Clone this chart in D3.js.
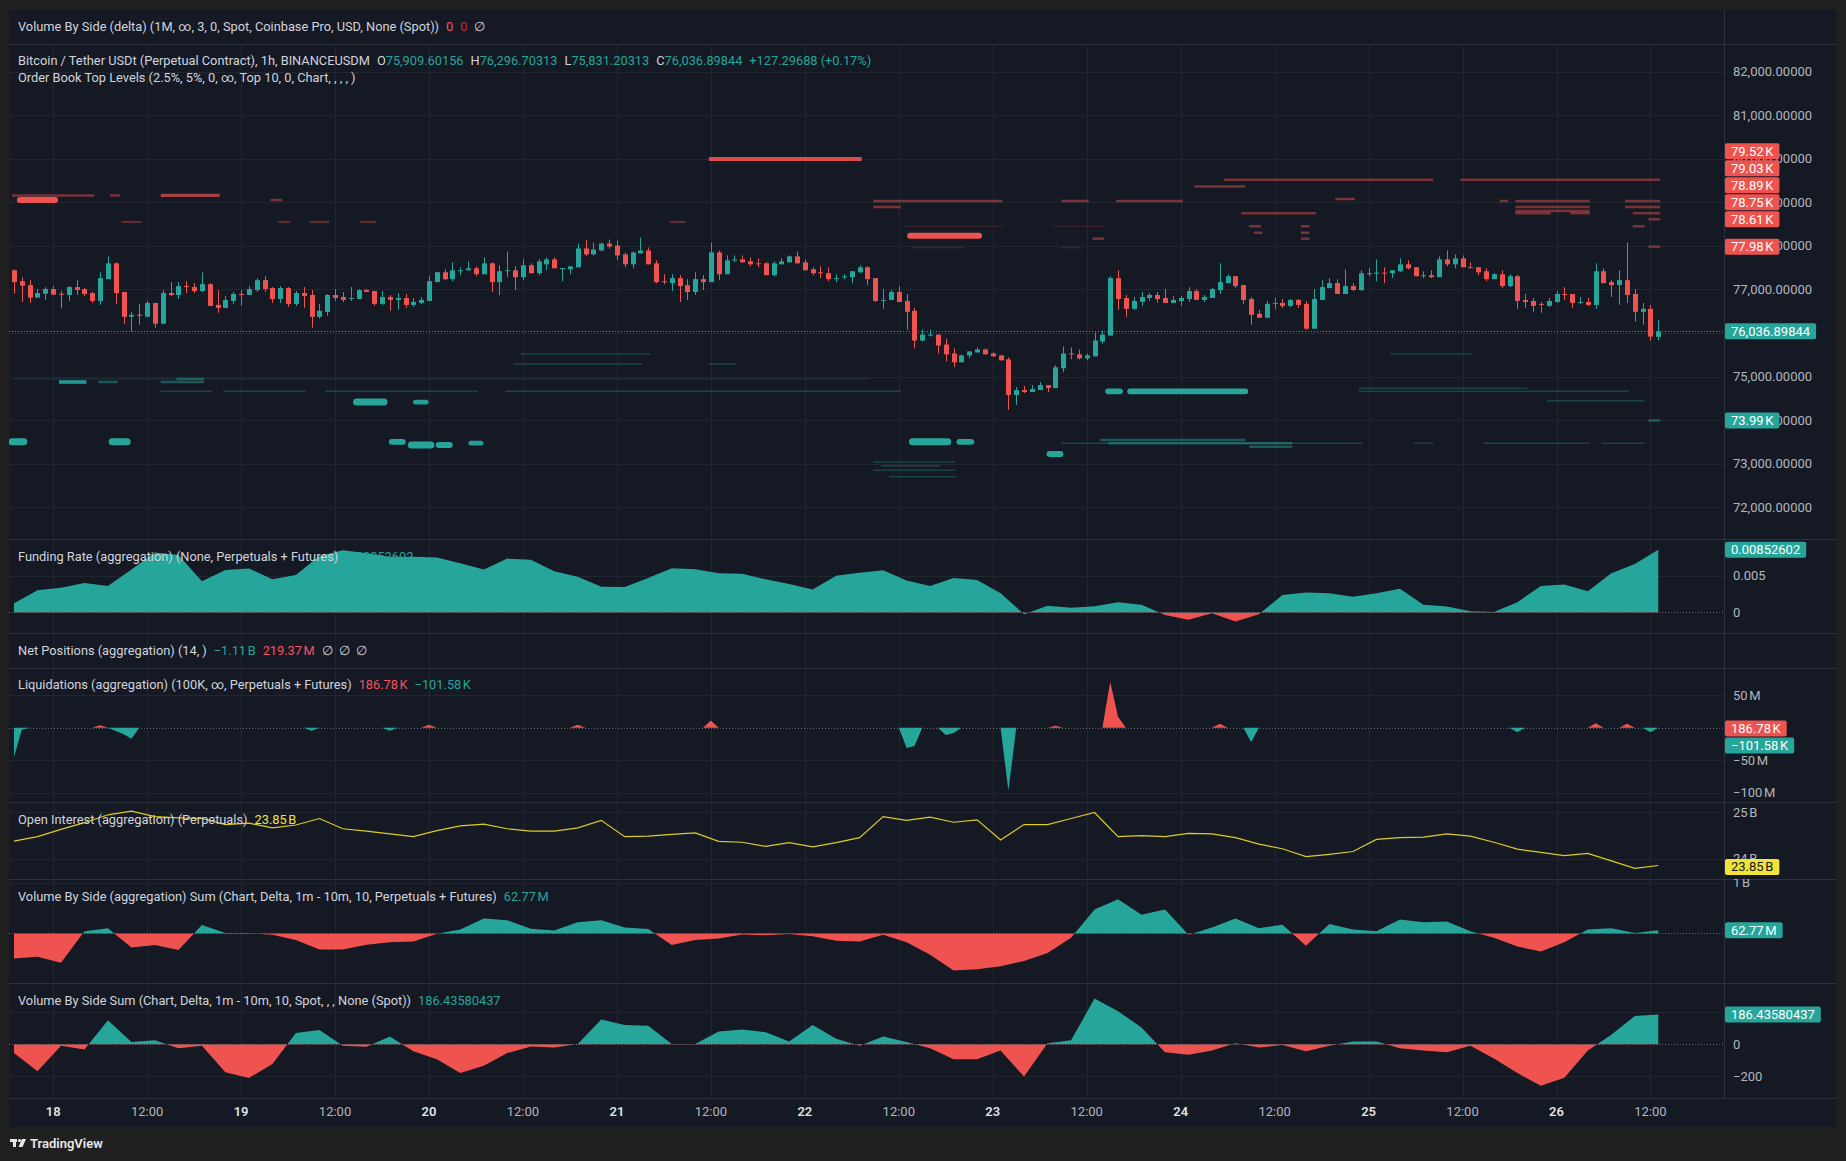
<!DOCTYPE html>
<html>
<head>
<meta charset="utf-8">
<script src="https://cdn.jsdelivr.net/npm/d3@7"></script>
<style>
html, body { margin: 0; background: #202020; }
svg { display: block; font-family: Roboto, "Noto Sans", sans-serif; }
</style>
</head>
<body>
<svg id="chart" width="1846" height="1161"></svg>
<script>
// ---- hourly candles, BTCUSDT perp, 17th 19:00 -> 26th 13:00
const candleOpen = [
  77439,77189,77098,76811,76902,77008,76900,76871,77053,77008,
  76917,76735,77235,77598,76940,76371,76420,76371,76689,76212,
  76917,76871,77076,77053,76962,77121,76644,76576,76735,76894,
  76871,76985,77212,77030,76780,77030,76667,76917,76871,76371,
  76485,76871,76826,76780,76780,76985,76962,76667,76826,76758,
  76803,76644,76689,76735,77167,77394,77235,77417,77439,77485,
  77349,77598,77167,77417,77439,77280,77553,77371,77576,77689,
  77485,77462,77508,77939,77803,77894,78053,78008,77803,77576,
  77826,77894,77598,77189,77144,77258,77098,76940,77235,77167,
  77849,77349,77667,77689,77643,77598,77598,77326,77576,77621,
  77758,77621,77462,77394,77371,77235,77290,77280,77394,77508,
  77258,76740,76758,76940,76735,76508,75826,75939,75962,75735,
  75530,75326,75485,75553,75621,75530,75485,75394,74576,74689,
  74644,74689,74803,74735,75189,75530,75508,75417,75462,75803,
  75939,77258,76803,76553,76712,76803,76871,76803,76689,76735,
  76780,76962,76758,76803,76985,77144,77303,77098,76780,76440,
  76349,76680,76689,76621,76758,76667,76098,76758,77030,77144,
  76894,77076,76985,77349,77370,77385,77371,77417,77576,77508,
  77315,77326,77280,77689,77576,77712,77510,77508,77417,77235,
  77349,77076,77303,76758,76735,76667,76621,76712,76894,76894,
  76689,76712,76644,77417,77167,77098,77212,76894,76485,76553,
  75909.60156
];
const candleHigh = [
  77462,77280,77212,77008,77053,77076,76962,77076,77212,77030,
  76940,77394,77758,77621,76940,76485,76667,76735,76689,76985,
  77167,77167,77189,77144,77394,77144,76985,76849,76940,76985,
  77076,77258,77303,77053,77076,77053,76962,77053,76985,76667,
  76894,77008,76940,77053,77008,77008,76962,76962,76871,76917,
  76894,76803,76826,77303,77394,77462,77621,77508,77643,77530,
  77735,77621,77553,77871,77530,77689,77598,77689,77735,77735,
  77490,77530,78053,78144,78076,78076,78144,78121,77849,77871,
  78189,77962,77667,77349,77349,77326,77235,77394,77326,78076,
  77894,77780,77780,77780,77735,77712,77621,77643,77712,77780,
  77871,77689,77508,77530,77508,77349,77349,77417,77553,77530,
  77258,77008,76985,77076,76894,76576,76076,76076,75962,75871,
  75644,75508,75576,75667,75644,75553,75485,75439,74758,74780,
  74803,74871,74803,75258,75689,75667,75621,75530,76008,76053,
  77303,77439,76871,76826,76940,76917,76940,77008,76849,76849,
  77053,77008,76871,77030,77598,77349,77303,77098,76826,76530,
  76735,76803,76780,76780,76780,76735,77008,77212,77258,77235,
  77462,77144,77439,77485,77689,77508,77439,77712,77667,77508,
  77417,77439,77758,77894,77803,77780,77621,77508,77485,77371,
  77439,77349,77326,76894,76803,76712,76803,76962,77053,76894,
  76826,76803,77598,77485,77212,77439,78076,77008,76689,76644,
  76296.70313
];
const candleLow = [
  76902,76712,76689,76811,76758,76879,76561,76735,76871,76849,
  76689,76644,77235,76667,76212,76030,76189,76371,76121,76212,
  76849,76780,76917,76917,76940,76621,76462,76576,76667,76621,
  76871,76940,76940,76689,76689,76598,76621,76576,76121,76326,
  76394,76735,76712,76735,76780,76940,76621,76644,76508,76530,
  76576,76598,76667,76735,77167,77212,77189,77326,77439,77303,
  77349,76940,76871,77280,76985,77212,77371,77326,77439,77485,
  77190,77349,77508,77758,77780,77871,77939,77667,77508,77485,
  77826,77576,77144,77121,76962,76712,76758,76871,76985,77167,
  77212,77349,77620,77621,77530,77508,77326,77303,77576,77621,
  77598,77439,77326,77258,77189,77167,77235,77144,77371,77098,
  76712,76553,76758,76712,76076,75644,75803,75917,75530,75348,
  75212,75326,75417,75553,75508,75462,75371,74235,74348,74621,
  74644,74689,74644,74735,75098,75394,75394,75371,75462,75758,
  75939,76530,76371,76530,76621,76735,76689,76689,76689,76621,
  76712,76758,76712,76803,76894,77144,77030,76667,76189,76349,
  76349,76553,76576,76598,76576,76076,76098,76758,77030,76894,
  76894,76962,76962,77303,77189,77144,77258,77394,77462,77303,
  77258,77258,77280,77530,77485,77508,77495,77326,77189,77235,
  77030,77053,76553,76576,76485,76462,76598,76689,76758,76576,
  76667,76621,76553,77144,76826,76644,76689,76258,76189,75826,
  75831.20313
];
const candleClose = [
  77167,77083,76811,76917,77008,76879,76890,77053,76985,76894,
  76735,77258,77598,76917,76371,76417,76400,76689,76212,76917,
  76871,77076,77053,76962,77121,76621,76576,76758,76894,76879,
  77008,77212,77008,76780,77030,76667,76917,76849,76371,76508,
  76871,76803,76758,76803,76985,76940,76667,76826,76758,76803,
  76644,76712,76758,77189,77394,77235,77439,77439,77485,77349,
  77598,77167,77417,77439,77280,77553,77371,77643,77689,77485,
  77490,77530,77939,77803,77917,78053,77985,77780,77576,77849,
  77894,77576,77167,77167,77258,77076,76940,77235,77167,77849,
  77349,77667,77689,77621,77576,77585,77326,77598,77643,77758,
  77598,77439,77371,77380,77235,77258,77300,77417,77508,77235,
  76735,76758,76940,76712,76485,75826,75962,75962,75712,75508,
  75326,75485,75576,75621,75508,75462,75371,74576,74689,74644,
  74712,74803,74735,75212,75530,75515,75417,75485,75826,75962,
  77258,76780,76553,76735,76826,76871,76780,76689,76758,76803,
  76962,76758,76826,77008,77167,77303,77076,76758,76417,76349,
  76667,76690,76621,76758,76644,76098,76780,77053,77144,76894,
  77076,76985,77371,77371,77385,77370,77439,77576,77485,77303,
  77325,77280,77689,77576,77712,77508,77495,77394,77235,77349,
  77076,77303,76735,76712,76621,76644,76735,76894,76879,76689,
  76712,76644,77417,77144,77098,77212,76871,76485,76553,75917,
  76036.89844
];

// ---- indicators, one reading every 3 candles (index 0, 3, 6 ... 210)
const indicatorStep = 3;
const fundingRate = [
  0.00124,0.00302,0.00337,0.00401,0.00361,0.00584,0.00817,0.00782,0.00426,0.00579,
  0.00599,0.0045,0.0051,0.00767,0.00846,0.00807,0.00757,0.00757,0.00747,0.00668,
  0.00584,0.00733,0.00718,0.00559,0.00485,0.00351,0.00347,0.0047,0.006,0.00589,
  0.00535,0.00525,0.0045,0.00386,0.00312,0.005,0.0054,0.00574,0.00436,0.00361,
  0.0047,0.0044,0.00262,-0.00025,0.00089,0.00064,0.00084,0.00139,0.00104,-0.00035,
  -0.00099,-0.0001,-0.00124,-0.00025,0.00238,0.00272,0.00262,0.00213,0.00262,0.00322,
  0.00104,0.00079,0.00015,0.00005,0.00139,0.00361,0.00381,0.00287,0.00535,0.00658,
  0.00852602
];
const openInterestB = [
  24.375,24.47,24.625,24.77,24.94,25.02,24.9,24.875,24.86,24.73,
  24.76,24.66,24.72,24.86,24.64,24.59,24.53,24.47,24.6,24.7,
  24.74,24.64,24.59,24.59,24.66,24.82,24.47,24.48,24.52,24.55,
  24.37,24.35,24.26,24.34,24.25,24.34,24.45,24.9,24.82,24.89,
  24.78,24.83,24.4,24.73,24.73,24.86,24.99,24.47,24.49,24.47,
  24.54,24.53,24.45,24.31,24.21,24.04,24.09,24.15,24.41,24.45,
  24.46,24.53,24.48,24.35,24.2,24.13,24.06,24.11,23.95,23.79,
  23.85
];
const volAggDeltaM = [
  -496,-460,-583,43,101,-281,-230,-331,165,7,
  7,-29,-129,-317,-317,-223,-173,-158,-7,79,
  295,259,94,58,223,259,115,86,-230,-129,
  -101,-22,-36,-14,-58,-144,-158,-29,-173,-424,
  -734,-712,-650,-547,-388,-86,475,676,367,475,
  -29,115,295,101,173,-245,187,79,43,273,
  223,237,43,-86,-259,-360,-173,79,101,7,
  62.77
];
const volSpotSum = [
  -55,-168,-9,-32,150,14,25,-25,-9,-175,
  -211,-123,70,89,-9,-16,48,-43,-93,-180,
  -134,-55,-14,-20,2,155,120,116,2,2,
  80,93,75,18,120,34,-9,48,14,-25,
  -93,-93,-39,-202,7,25,286,207,105,-50,
  -66,-39,7,-20,-5,-43,-9,18,18,-25,
  -39,-50,-9,-89,-180,-259,-209,-39,59,177,
  186.43580437
];

// ---- liquidations (M USD), only the candles that had any
const liqLongIdx = [11, 53, 72, 89, 133, 140, 141, 154, 202, 206, 210];
const liqLongVal = [4, 4.5, 4.5, 11, 3, 71, 17, 6, 7, 6, 0.18678];
const liqShortIdx = [0, 1, 13, 14, 15, 38, 48, 114, 115, 119, 120, 127, 158, 192, 209, 210];
const liqShortVal = [-45, -3, -5, -10, -17, -4.5, -4.5, -31, -28, -11, -8, -97, -22, -7, -7, -0.10158];

// ---- order book levels: price, from candle, to candle, relative size
const askPrice = [79994,79052,79158,79158,79158,79050,78550,78550,78550,78550,78550,
  79520,79520,79360,79030,79030,79030,79030,79030,79030,79075,78890,78890,78890,78800,
  78750,78750,78750,78750,78610,78450,78450,78450,78450,78450,78300,78300,78233,78164,78164,
  77980,77957,77957];
const askFrom = [89,1,0,12.5,19,33,14,34,38,44.5,84,
  154.8,185,151,110,134,141,190,192,206,169,110,192,206,192,
  157,192,199,207,209,158,164.6,207,114,133,158.6,164.6,114.7,138,164.6,
  209,115,134];
const askTo = [108,5,10,13.3,26,34,16,35,40,46,85.5,
  181,210,157,126,137,149,190.6,201,210,171,113,201,210,201,
  166,196,201,210,210,159,165.2,208,126,139,159.2,165.2,123,139,165.2,
  210,121,136];
const askSize = [3.2,5,2,2,2.5,2,1.5,1.5,1.5,1.5,1.5,
  2,2,2,2,2,2,2,2,2,2,2,2,2,2,
  2,2,2,2,2,2,2,2,0.5,0.5,2,2,5,2,2,
  2,0.5,0.5];

const bidPrice = [74943,74943,74874,74874,74874,74660,74660,74660,74660,74660,74660,
  74415,74415,74730,74660,74445,73500,73500,73500,73428,73428,73470,73500,73500,
  73543,73470,73470,73470,73470,73470,73390,73222,73040,72950,72850,72700,
  75517,75287,75287,75517,73990];
const bidFrom = [0,21,6,11,19,19,27,40,63,140,142.8,
  44,51.5,172,172,196,0,12.8,48.5,51,54.5,58.6,115,121,
  139,134,140,179,188,203,158,132.5,110,111,110,112,
  65,64,89,176,209];
const bidTo = [109,24,9,13,24,25,37,59,113,141,157,
  47,52.4,193,206,208,1,14.2,49.4,53,55.4,59.4,119,122,
  157,172,163,181,201,208,163,133.4,120,118,120,120,
  81,80,92,186,210];
const bidSize = [0.7,2,3,2,2,1,1,1,1,5,5,
  6,4,1,1,1,6,6,5,6,5,4,6,5,
  2,1,2,1,1,1,2,5,1,1,1,1,
  1,1,1,1,2];

// ---- labels
const priceTicks = d3.range(72000, 82001, 1000);
const askLabels = [79520, 79030, 78890, 78750, 78610, 77980];
const bidLabels = [73990];

const teal = "#26a69a", red = "#ef5350", yellow = "#f2e33a";
const textColor = "#d1d4dc", axisText = "#b2b5be";
const gridColor = "#222631", sepColor = "#2e323d";
const legendSize = 12.8;

const svg = d3.select("#chart");
const plotLeft = 9, axisX = 1724, plotRight = 1836;

const panes = {
  delta:   { top: 10,  bottom: 44 },
  price:   { top: 44,  bottom: 539 },
  funding: { top: 539, bottom: 633 },
  netpos:  { top: 633, bottom: 668 },
  liq:     { top: 668, bottom: 802 },
  oi:      { top: 802, bottom: 879 },
  volAgg:  { top: 879, bottom: 983 },
  volSum:  { top: 983, bottom: 1098 }
};
const timeAxis = { top: 1098, bottom: 1127 };

// time scale
const t0 = new Date(2025, 2, 17, 19);
const dates = candleClose.map((_, i) => new Date(+t0 + i * 3600e3));
const x = d3.scaleTime()
  .domain([t0, dates[dates.length - 1]])
  .range([14, 14 + (dates.length - 1) * 7.83]);

// y scales
const yPrice = d3.scaleLinear().domain([72000, 82000]).range([507.2, 71.6]);
const yFunding = d3.scaleLinear().domain([0, 0.005]).range([612.4, 575.7]);
const yLiq = d3.scaleLinear().domain([-100, 50]).range([792.7, 695.3]);
const yOi = d3.scaleLinear().domain([24, 25]).range([858.5, 812]);
const yVolAgg = d3.scaleLinear().domain([0, 1000]).range([933.4, 882.9]);
const yVolSum = d3.scaleLinear().domain([-200, 0]).range([1076.3, 1044.3]);

// background
svg.append("rect").attr("x", plotLeft).attr("y", panes.delta.top)
  .attr("width", plotRight - plotLeft).attr("height", timeAxis.bottom - panes.delta.top)
  .attr("fill", "#151924");

const defs = svg.append("defs");
Object.entries(panes).forEach(([name, p]) => {
  defs.append("clipPath").attr("id", "clip-" + name)
    .append("rect").attr("x", plotLeft).attr("y", p.top)
    .attr("width", axisX - plotLeft).attr("height", p.bottom - p.top);
  defs.append("clipPath").attr("id", "axclip-" + name)
    .append("rect").attr("x", axisX).attr("y", p.top)
    .attr("width", plotRight - axisX).attr("height", p.bottom - p.top);
});

// vertical grid every 12h
const gridG = svg.append("g");
const timeTicks = x.ticks(d3.timeHour.every(12));
gridG.selectAll(".vgrid").data(timeTicks).enter().append("line")
  .attr("x1", d => Math.round(x(d)) + 0.5).attr("x2", d => Math.round(x(d)) + 0.5)
  .attr("y1", panes.price.top).attr("y2", panes.volSum.bottom)
  .attr("stroke", gridColor);

function hgrid(values, y, pane) {
  gridG.selectAll(null).data(values).enter().append("line")
    .attr("x1", plotLeft).attr("x2", axisX)
    .attr("y1", d => Math.round(y(d)) + 0.5).attr("y2", d => Math.round(y(d)) + 0.5)
    .attr("stroke", gridColor)
    .attr("clip-path", `url(#clip-${pane})`);
}
hgrid(priceTicks, yPrice, "price");
hgrid([0.005], yFunding, "funding");
hgrid([50, -50, -100], yLiq, "liq");
hgrid([25, 24], yOi, "oi");
hgrid([1000], yVolAgg, "volAgg");
hgrid([200, -200], yVolSum, "volSum");

// ---- order book levels
const sizeWidth = d3.scaleLinear().domain([0.5, 2, 6]).range([1, 2.5, 7]);
const sizeOpacity = d3.scaleLinear().domain([0.5, 2, 3, 5]).range([0.22, 0.45, 0.9, 1]).clamp(true);
const hourX = i => x(new Date(+t0 + i * 3600e3));

function drawLevels(prices, from, to, size, color) {
  const rows = prices.map((p, i) => ({ p, a: from[i], b: to[i], s: size[i] }));
  svg.append("g").attr("clip-path", "url(#clip-price)")
    .selectAll("line").data(rows).enter().append("line")
    .attr("x1", d => hourX(d.a) - 2).attr("x2", d => hourX(d.b) + 2)
    .attr("y1", d => yPrice(d.p)).attr("y2", d => yPrice(d.p))
    .attr("stroke", color)
    .attr("stroke-width", d => sizeWidth(d.s))
    .attr("stroke-linecap", d => d.s >= 4 ? "round" : "butt")
    .attr("opacity", d => sizeOpacity(d.s));
}
drawLevels(askPrice, askFrom, askTo, askSize, red);
drawLevels(bidPrice, bidFrom, bidTo, bidSize, teal);

// ---- candles
const candles = dates.map((d, i) => ({
  d, o: candleOpen[i], h: candleHigh[i], l: candleLow[i], c: candleClose[i]
}));
const candleG = svg.append("g").attr("clip-path", "url(#clip-price)");
candleG.selectAll(".wick").data(candles).enter().append("line")
  .attr("x1", d => Math.round(x(d.d)) + 0.5).attr("x2", d => Math.round(x(d.d)) + 0.5)
  .attr("y1", d => yPrice(d.h)).attr("y2", d => yPrice(d.l))
  .attr("stroke", d => d.c >= d.o ? teal : red);
candleG.selectAll(".body").data(candles).enter().append("rect")
  .attr("x", d => Math.round(x(d.d)) - 2)
  .attr("width", 5)
  .attr("y", d => yPrice(Math.max(d.o, d.c)))
  .attr("height", d => Math.max(1, yPrice(Math.min(d.o, d.c)) - yPrice(Math.max(d.o, d.c))))
  .attr("fill", d => d.c >= d.o ? teal : red);

const lastClose = candleClose[candleClose.length - 1];
svg.append("line")
  .attr("x1", plotLeft).attr("x2", axisX)
  .attr("y1", Math.round(yPrice(lastClose)) + 0.5).attr("y2", Math.round(yPrice(lastClose)) + 0.5)
  .attr("stroke", teal).attr("stroke-dasharray", "1 2");

// ---- indicator helpers
const stepPoints = arr => arr.map((v, k) => [k * indicatorStep, v]);

function zeroLine(y) {
  svg.append("line").attr("x1", plotLeft).attr("x2", axisX)
    .attr("y1", Math.round(y(0)) + 0.5).attr("y2", Math.round(y(0)) + 0.5)
    .attr("stroke", "#787b86").attr("stroke-dasharray", "1 2").attr("opacity", 0.8);
}

function deltaArea(name, pts, y, up, down) {
  const p = panes[name];
  const y0 = y(0);
  defs.append("clipPath").attr("id", "pos-" + name).append("rect")
    .attr("x", plotLeft).attr("y", p.top).attr("width", axisX - plotLeft).attr("height", y0 - p.top);
  defs.append("clipPath").attr("id", "neg-" + name).append("rect")
    .attr("x", plotLeft).attr("y", y0).attr("width", axisX - plotLeft).attr("height", p.bottom - y0);
  const area = d3.area().x(d => hourX(d[0])).y0(y0).y1(d => y(d[1]));
  const g = svg.append("g").attr("clip-path", `url(#clip-${name})`);
  g.append("path").datum(pts).attr("d", area).attr("fill", up).attr("clip-path", `url(#pos-${name})`);
  g.append("path").datum(pts).attr("d", area).attr("fill", down).attr("clip-path", `url(#neg-${name})`);
}

// funding
deltaArea("funding", stepPoints(fundingRate), yFunding, teal, red);
zeroLine(yFunding);

// liquidations
const liqLong = candleClose.map(() => 0);
liqLongIdx.forEach((k, j) => { liqLong[k] = liqLongVal[j]; });
const liqShort = candleClose.map(() => 0);
liqShortIdx.forEach((k, j) => { liqShort[k] = liqShortVal[j]; });
zeroLine(yLiq);
{
  const area = d3.area().x((d, i) => hourX(i)).y0(yLiq(0)).y1(d => yLiq(d));
  const g = svg.append("g").attr("clip-path", "url(#clip-liq)");
  g.append("path").datum(liqLong).attr("d", area).attr("fill", red);
  g.append("path").datum(liqShort).attr("d", area).attr("fill", teal);
}

// open interest
svg.append("path").datum(stepPoints(openInterestB))
  .attr("clip-path", "url(#clip-oi)")
  .attr("d", d3.line().x(d => hourX(d[0])).y(d => yOi(d[1])))
  .attr("fill", "none").attr("stroke", "#dccb22").attr("stroke-width", 1.2);

// volume by side
deltaArea("volAgg", stepPoints(volAggDeltaM), yVolAgg, teal, red);
zeroLine(yVolAgg);
deltaArea("volSum", stepPoints(volSpotSum), yVolSum, teal, red);
zeroLine(yVolSum);

// ---- separators
const sepG = svg.append("g");
[panes.price.top, panes.funding.top, panes.netpos.top, panes.liq.top, panes.oi.top,
 panes.volAgg.top, panes.volSum.top, timeAxis.top].forEach(yy => {
  sepG.append("line").attr("x1", plotLeft).attr("x2", plotRight)
    .attr("y1", yy + 0.5).attr("y2", yy + 0.5).attr("stroke", sepColor);
});
sepG.append("line").attr("x1", axisX + 0.5).attr("x2", axisX + 0.5)
  .attr("y1", panes.delta.top).attr("y2", timeAxis.top).attr("stroke", sepColor);

// ---- right axis tick labels
function axisLabels(values, y, fmt, pane) {
  svg.append("g").attr("clip-path", `url(#axclip-${pane})`)
    .selectAll("text").data(values).enter().append("text")
    .attr("x", axisX + 9).attr("y", d => y(d))
    .attr("dominant-baseline", "central")
    .attr("font-size", 13).attr("fill", axisText)
    .text(fmt);
}
const fmtPrice = d3.format(",.5f");
axisLabels(priceTicks, yPrice, fmtPrice, "price");
axisLabels([0.005, 0], yFunding, d => d === 0 ? "0" : "0.005", "funding");
axisLabels([50, -50, -100], yLiq, d => (d < 0 ? "\u2212" + Math.abs(d) : d) + "\u202fM", "liq");
axisLabels([25, 24], yOi, d => d + "\u202fB", "oi");
axisLabels([1000], yVolAgg, () => "1\u202fB", "volAgg");
axisLabels([0, -200], yVolSum, d => d === 0 ? "0" : "\u2212200", "volSum");

// ---- right axis value boxes
function valueBox(yc, label, bg, fg) {
  const g = svg.append("g");
  const r = g.append("rect").attr("x", axisX + 1).attr("y", yc - 8).attr("height", 16)
    .attr("rx", 2).attr("fill", bg);
  const t = g.append("text").attr("x", axisX + 7).attr("y", yc)
    .attr("dominant-baseline", "central").attr("font-size", 13).attr("fill", fg).text(label);
  r.attr("width", t.node().getComputedTextLength() + 12);
}
// ask labels stack upward when they collide
{
  let prevY = Infinity;
  askLabels.slice().sort((a, b) => a - b).forEach(p => {
    let yy = yPrice(p);
    if (yy > prevY - 17) yy = prevY - 17;
    prevY = yy;
    valueBox(yy, (p / 1000).toFixed(2) + "\u202fK", red, "#ffffff");
  });
}
bidLabels.forEach(p => valueBox(yPrice(p), (p / 1000).toFixed(2) + "\u202fK", teal, "#ffffff"));
valueBox(yPrice(lastClose), fmtPrice(lastClose), teal, "#ffffff");
valueBox(yFunding(fundingRate[fundingRate.length - 1]), "0.00852602", teal, "#ffffff");
valueBox(yLiq(0) + 0.8, "186.78\u202fK", red, "#ffffff");
valueBox(yLiq(0) + 17.8, "\u2212101.58\u202fK", teal, "#ffffff");
valueBox(yOi(23.85) + 1.5, "23.85\u202fB", yellow, "#131722");
valueBox(yVolAgg(62.77), "62.77\u202fM", teal, "#ffffff");
valueBox(yVolSum(186.43580437), "186.43580437", teal, "#ffffff");

// ---- time axis
const dayFmt = d3.timeFormat("%-d"), hourFmt = d3.timeFormat("%H:%M");
svg.append("g").selectAll("text").data(timeTicks).enter().append("text")
  .attr("x", d => x(d)).attr("y", 1111)
  .attr("text-anchor", "middle").attr("dominant-baseline", "central")
  .attr("font-size", 13)
  .attr("font-weight", d => d.getHours() === 0 ? 600 : 400)
  .attr("fill", d => d.getHours() === 0 ? "#dfe1e7" : axisText)
  .text(d => d.getHours() === 0 ? dayFmt(d) : hourFmt(d));

// ---- legends
function legend(y, parts) {
  const t = svg.append("text").attr("x", 18).attr("y", y)
    .attr("dominant-baseline", "central").attr("font-size", legendSize);
  parts.forEach(([s, c, gap]) => t.append("tspan").attr("fill", c).attr("dx", gap || 0).text(s));
}
const dim = textColor;
legend(26, [["Volume By Side (delta) (1M, \u221e, 3, 0, Spot, Coinbase Pro, USD, None (Spot))", dim],
  ["0", "#f7525f", 7], ["0", "#b8323c", 7], ["\u2205", dim, 7]]);
legend(60, [["Bitcoin / Tether USDt (Perpetual Contract), 1h, BINANCEUSDM", dim],
  ["O", dim, 7], ["75,909.60156", teal], ["H", dim, 7], ["76,296.70313", teal],
  ["L", dim, 7], ["75,831.20313", teal], ["C", dim, 7], ["76,036.89844", teal],
  ["+127.29688 (+0.17%)", teal, 7]]);
legend(77, [["Order Book Top Levels (2.5%, 5%, 0, \u221e, Top 10, 0, Chart, , , , )", dim]]);
legend(555.5, [["Funding Rate (aggregation) (None, Perpetuals + Futures)", dim], ["0.00852602", teal, 7]]);
legend(650, [["Net Positions (aggregation) (14, )", dim], ["\u22121.11\u202fB", teal, 7],
  ["219.37\u202fM", "#f7525f", 7], ["\u2205", dim, 7], ["\u2205", dim, 6], ["\u2205", dim, 6]]);
legend(683.5, [["Liquidations (aggregation) (100K, \u221e, Perpetuals + Futures)", dim],
  ["186.78\u202fK", "#f7525f", 7], ["\u2212101.58\u202fK", teal, 7]]);
legend(818.5, [["Open Interest (aggregation) (Perpetuals)", dim], ["23.85\u202fB", yellow, 7]]);
legend(895.5, [["Volume By Side (aggregation) Sum (Chart, Delta, 1m - 10m, 10, Perpetuals + Futures)", dim],
  ["62.77\u202fM", teal, 7]]);
legend(999.5, [["Volume By Side Sum (Chart, Delta, 1m - 10m, 10, Spot, , , None (Spot))", dim],
  ["186.43580437", teal, 7]]);

// ---- TradingView mark
const logo = svg.append("g").attr("fill", "#e8e8e8");
logo.append("rect").attr("x", 10).attr("y", 1139).attr("width", 7).attr("height", 3);
logo.append("rect").attr("x", 13).attr("y", 1139).attr("width", 3).attr("height", 8);
logo.append("circle").attr("cx", 19.5).attr("cy", 1140.5).attr("r", 1.6);
logo.append("path").attr("d", "M22,1139 L26,1139 L22.5,1147 L18.5,1147 Z");
logo.append("text").attr("x", 30).attr("y", 1143.5).attr("dominant-baseline", "central")
  .attr("font-size", 13).attr("font-weight", 600).text("TradingView");
</script>
</body>
</html>
